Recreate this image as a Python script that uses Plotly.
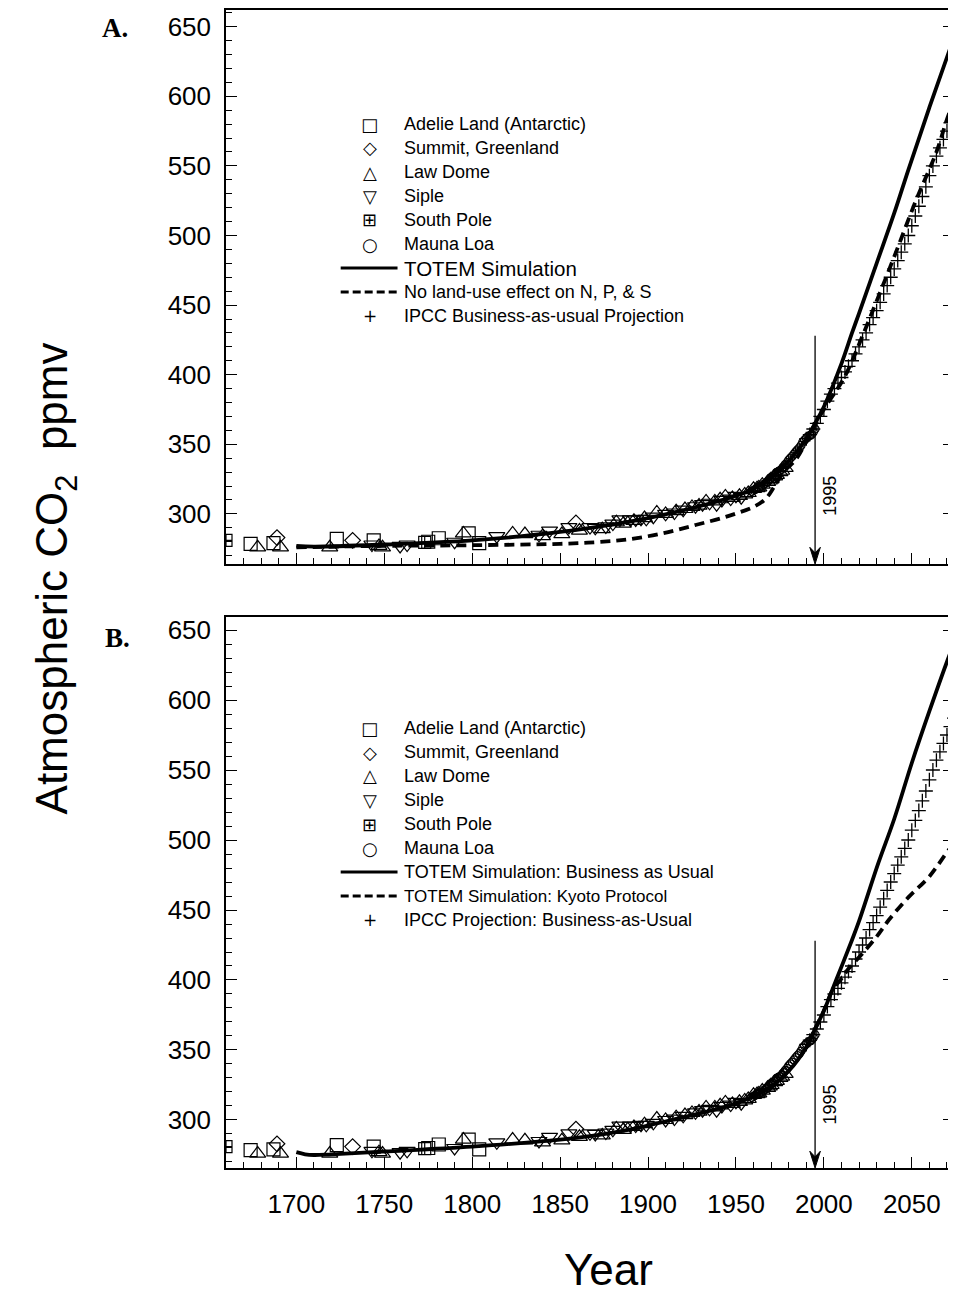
import plotly.graph_objects as go

# ---------------- data ----------------
adelie_years = [1674, 1687, 1723, 1744, 1775, 1781, 1798, 1804]
adelie_co2 = [278.5, 279, 282, 281, 280, 282.5, 286, 279]

summit_years = [1689, 1732, 1859]
summit_co2 = [283, 281, 293.5]

lawdome_years = [1678, 1691, 1719, 1747, 1749, 1795, 1823, 1830, 1840, 1851, 1861, 1874,
                 1882, 1886, 1892, 1898, 1905, 1910, 1916, 1921, 1925, 1929, 1933, 1938,
                 1941, 1944, 1948, 1952, 1955, 1957, 1960, 1962, 1963, 1965, 1968, 1969,
                 1970, 1972, 1973, 1975, 1976, 1978]
lawdome_co2 = [276, 276, 276, 277, 276, 286, 286, 285.5, 284, 285.5, 288, 289,
               294, 293, 295, 297, 301, 300, 302, 303.5, 305, 306, 309, 309,
               310.5, 312.5, 311.5, 313, 314, 315, 318, 318.5, 319, 321, 323, 324,
               325, 327, 328, 330, 331, 333]

siple_years = [1743, 1759, 1763, 1790, 1814, 1838, 1844, 1855, 1867, 1870, 1876, 1880,
               1884, 1890, 1893, 1896, 1899, 1903, 1910, 1915, 1920, 1927, 1931, 1935,
               1939, 1942, 1947, 1950, 1953]
siple_co2 = [278, 277, 278, 280, 284, 285, 288, 290.5, 290.5, 290, 291, 293,
             296, 296, 296, 296.5, 296.5, 298, 300, 301, 303, 305.5, 307, 308,
             307, 310, 311, 313, 312]

southpole_years = [1660, 1773]
southpole_co2 = [281, 279.5]

maunaloa_years = list(range(1959, 1996))
maunaloa_co2 = [316.0, 316.9, 317.6, 318.5, 319.0, 319.6, 320.0, 321.4, 322.2, 323.0,
                324.6, 325.7, 326.3, 327.5, 329.7, 330.2, 331.1, 332.0, 333.8, 335.4,
                336.8, 338.7, 340.1, 341.4, 343.0, 344.6, 346.0, 347.4, 349.2, 351.6,
                353.1, 354.4, 355.6, 356.4, 357.1, 358.8, 360.9]

# Panel A curves
totem_a_years = [1700, 1710, 1750, 1800, 1850, 1900, 1950, 1960, 1970, 1980, 1990, 1995,
                 2000, 2010, 2016, 2020, 2030, 2040, 2048, 2060, 2075]
totem_a_co2 = [277, 276.5, 278, 281, 287, 297, 313, 318, 326, 338, 354, 365,
               377, 408, 430, 444, 480, 516, 547, 592, 646]

noland_a_years = [1700, 1750, 1800, 1850, 1871, 1889, 1908, 1927, 1946, 1961, 1967, 1972,
                  1977, 1984, 1990, 1999, 2012, 2022, 2031, 2041, 2052, 2064, 2071, 2075]
noland_a_co2 = [276, 277, 277.5, 278.5, 279.7, 281.7, 286, 292, 298.6, 305.7, 311, 320,
                330, 339, 352, 373, 399, 428, 456, 488, 524, 560, 587, 598]

# Panel B curves
totem_b_years = [1700, 1705, 1710, 1720, 1750, 1800, 1850, 1880, 1900, 1920, 1940, 1950,
                 1960, 1970, 1980, 1990, 1995, 2000, 2007, 2016, 2020, 2031, 2040, 2050,
                 2060, 2072, 2075]
totem_b_co2 = [277, 275.5, 275, 275.5, 277.5, 281, 286, 291, 296, 302, 308, 312,
               317, 324, 335, 352, 365, 378, 400, 428.6, 442, 483.6, 515, 555,
               592, 634, 643]

kyoto_b_years = [1995, 2000, 2005, 2010, 2014, 2022, 2030, 2037, 2048, 2060, 2071, 2075]
kyoto_b_co2 = [365, 378, 393, 401, 408, 419, 431, 443, 459, 474, 493, 499]

# IPCC business-as-usual projection (crosses)
ipcc_years = list(range(1990, 2076, 2))
ipcc_co2 = [354, 357, 361, 365, 370, 375, 381, 386, 390, 394, 398, 402, 406, 410, 415,
            420, 425, 430, 436, 441, 446, 452, 458, 464, 470, 476, 482, 488, 494, 500,
            507, 514, 521, 528, 535, 543, 550, 557, 563, 569, 575, 581, 587]

x_ticks = [1700, 1750, 1800, 1850, 1900, 1950, 2000, 2050]
y_ticks = [300, 350, 400, 450, 500, 550, 600, 650]

# ---------------- layout helpers ----------------
OFF = 8                      # page body margin of the html page
W, H = 956 - OFF, 1294 - OFF
ML, MT = 226 - OFF, 10 - OFF
MR = 0
PW = W - ML - MR
MB = H - (1168 - OFF)
PH = H - MT - MB


def px(xp):
    """page x pixel -> paper x"""
    return (xp - OFF - ML) / PW


def py(yp):
    """page y pixel -> paper y"""
    return 1 - (yp - OFF - MT) / PH


FONT = "Liberation Sans, Arial, Helvetica, sans-serif"

fig = go.Figure()


def add_panel(xa, ya, solid_x, solid_y, dash_x, dash_y):
    fig.add_trace(go.Scatter(x=solid_x, y=solid_y, mode="lines", xaxis=xa, yaxis=ya,
                             line=dict(color="black", width=3.8, shape="spline"),
                             showlegend=False))
    fig.add_trace(go.Scatter(x=dash_x, y=dash_y, mode="lines", xaxis=xa, yaxis=ya,
                             line=dict(color="black", width=3.8, dash="10px,6px", shape="spline"),
                             showlegend=False))
    fig.add_trace(go.Scatter(x=ipcc_years, y=ipcc_co2, mode="markers", xaxis=xa, yaxis=ya,
                             marker=dict(symbol="cross-thin-open", size=10, color="black",
                                         line=dict(color="black", width=1.3)),
                             showlegend=False))
    stations = [
        (adelie_years, adelie_co2, "square-open", 13),
        (summit_years, summit_co2, "diamond-open", 12),
        (lawdome_years, lawdome_co2, "triangle-up-open", 14),
        (siple_years, siple_co2, "triangle-down-open", 14),
        (southpole_years, southpole_co2, "square-cross-open", 12),
        (maunaloa_years, maunaloa_co2, "circle-open", 8),
    ]
    for xs, ys, sym, sz in stations:
        fig.add_trace(go.Scatter(x=xs, y=ys, mode="markers", xaxis=xa, yaxis=ya,
                                 marker=dict(symbol=sym, size=sz, color="black",
                                             line=dict(color="black", width=1.2)),
                                 showlegend=False))


add_panel("x", "y", totem_a_years, totem_a_co2, noland_a_years, noland_a_co2)
add_panel("x2", "y2", totem_b_years, totem_b_co2, kyoto_b_years, kyoto_b_co2)

A_RANGE = [264, 662]
B_RANGE = [265.7, 659.3]
X_RANGE = [1660, 2074]

xcommon = dict(range=X_RANGE, tickvals=x_ticks, ticks="inside", ticklen=11, tickwidth=1.3,
               tickcolor="black", showline=True, linecolor="black", linewidth=1.5,
               mirror=True, showgrid=False, zeroline=False,
               minor=dict(dtick=10, tick0=1660, ticks="inside", ticklen=6, tickwidth=1.1,
                          tickcolor="black"),
               tickfont=dict(family=FONT, size=26, color="black"))
ycommon = dict(tickvals=y_ticks, ticks="inside", ticklen=11, tickwidth=1.3,
               tickcolor="black", showline=True, linecolor="black", linewidth=1.5,
               mirror="ticks", showgrid=False, zeroline=False,
               minor=dict(dtick=10, tick0=300, ticks="inside", ticklen=6, tickwidth=1.1,
                          tickcolor="black"),
               tickfont=dict(family=FONT, size=26, color="black"), ticklabelstandoff=8)

top_a = py(564)
bot_b = py(617)
fig.update_layout(
    width=W, height=H, margin=dict(l=ML, r=MR, t=MT, b=MB, pad=0),
    paper_bgcolor="white", plot_bgcolor="white", showlegend=False,
    xaxis=dict(**xcommon, anchor="y", showticklabels=False),
    yaxis=dict(**ycommon, range=A_RANGE, domain=[top_a, 1], anchor="x"),
    xaxis2=dict(**xcommon, anchor="y2", showticklabels=True, ticklabelstandoff=12),
    yaxis2=dict(**ycommon, range=B_RANGE, domain=[0, bot_b], anchor="x2"),
)

ann = []
shapes = []

# 1995 arrows (line + notched arrow head) and labels
for xr, yr, bottom, top, lab_y in [("x", "y", A_RANGE[0], 428, 313),
                                   ("x2", "y2", B_RANGE[0], 428, 311)]:
    shapes.append(dict(type="line", xref=xr, yref=yr, x0=1995, x1=1995, y0=bottom + 6, y1=top,
                       line=dict(color="black", width=1.3)))
    shapes.append(dict(type="path", xref=xr, yref=yr,
                       path=f"M 1992.0 {bottom + 12} L 1995 {bottom} L 1998.0 {bottom + 12} "
                            f"L 1995 {bottom + 8} Z",
                       fillcolor="black", line=dict(color="black", width=1)))
    ann.append(dict(x=2003.5, y=lab_y, xref=xr, yref=yr, text="1995", showarrow=False,
                    xanchor="center", yanchor="middle", textangle=-90,
                    font=dict(family=FONT, size=18, color="black")))

# panel letters
SERIF = "Liberation Serif, Times New Roman, serif"
ann.append(dict(x=px(115), y=py(28), xref="paper", yref="paper", text="<b>A.</b>",
                xanchor="center", yanchor="middle", showarrow=False,
                font=dict(family=SERIF, size=27, color="black")))
ann.append(dict(x=px(117), y=py(638), xref="paper", yref="paper", text="<b>B.</b>",
                xanchor="center", yanchor="middle", showarrow=False,
                font=dict(family=SERIF, size=27, color="black")))

# axis titles
ann.append(dict(x=px(55), y=py(578), xref="paper", yref="paper",
                text="Atmospheric CO<sub>2</sub>\u00a0\u00a0ppmv", textangle=-90, showarrow=False,
                xanchor="center", yanchor="middle",
                font=dict(family=FONT, size=44, color="black")))
ann.append(dict(x=px(610), y=py(1269), xref="paper", yref="paper", text="Year",
                xanchor="center", yanchor="middle", showarrow=False,
                font=dict(family=FONT, size=44, color="black")))

# legends
sym_font = "DejaVu Sans, sans-serif"
legend_a = [
    ("\u25a1", "Adelie Land (Antarctic)", 18, None),
    ("\u25c7", "Summit, Greenland", 18, None),
    ("\u25b3", "Law Dome", 18, None),
    ("\u25bd", "Siple", 18, None),
    ("\u229e", "South Pole", 18, None),
    ("\u25cb", "Mauna Loa", 18, None),
    (None, "TOTEM Simulation", 20.5, "solid"),
    (None, "No land-use effect on N, P, & S", 18, "dash"),
    ("+", "IPCC Business-as-usual Projection", 18, None),
]
legend_b = [
    ("\u25a1", "Adelie Land (Antarctic)", 18, None),
    ("\u25c7", "Summit, Greenland", 18, None),
    ("\u25b3", "Law Dome", 18, None),
    ("\u25bd", "Siple", 18, None),
    ("\u229e", "South Pole", 18, None),
    ("\u25cb", "Mauna Loa", 18, None),
    (None, "TOTEM Simulation: Business as Usual", 18, "solid"),
    (None, "TOTEM Simulation: Kyoto Protocol", 17, "dash"),
    ("+", "IPCC Projection: Business-as-Usual", 18, None),
]

for items, y0 in [(legend_a, 124), (legend_b, 728)]:
    for i, (sym, label, fs, ls) in enumerate(items):
        yy = y0 + 24 * i
        ann.append(dict(x=px(402), y=py(yy), xref="paper", yref="paper", text=label,
                        xanchor="left", yanchor="middle", showarrow=False,
                        font=dict(family=FONT, size=fs, color="black")))
        if sym:
            ann.append(dict(x=px(370), y=py(yy), xref="paper", yref="paper", text=sym,
                            xanchor="center", yanchor="middle", showarrow=False,
                            font=dict(family=sym_font, size=18 if sym != "+" else 17,
                                      color="black")))
        else:
            shapes.append(dict(type="line", xref="paper", yref="paper",
                               x0=px(341), x1=px(398), y0=py(yy), y1=py(yy),
                               line=dict(color="black", width=3,
                                         dash="solid" if ls == "solid" else "8px,4px")))

fig.update_layout(annotations=ann, shapes=shapes)
fig.write_html("out.html")
